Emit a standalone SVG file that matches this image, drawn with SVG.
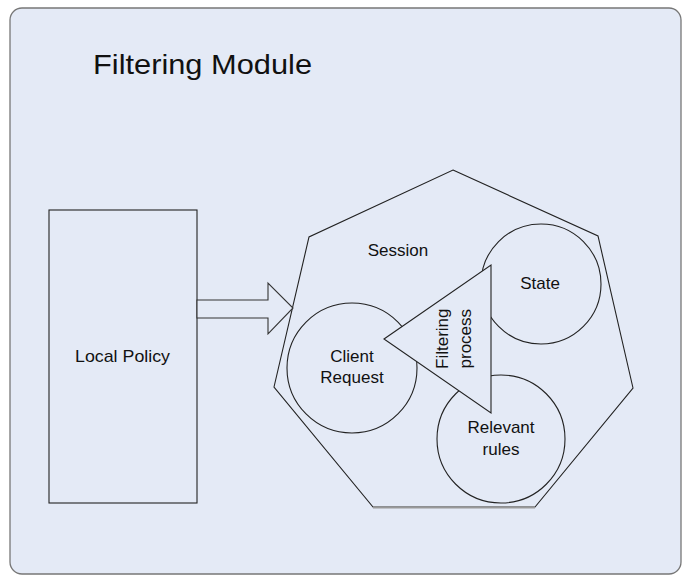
<svg xmlns="http://www.w3.org/2000/svg" width="683" height="576" viewBox="0 0 683 576">
<style>
text{font-family:"Liberation Sans",Arial,sans-serif;fill:#111;}
.shape{fill:#E4EAF6;stroke:#222;stroke-width:1.1;}
.lbl{font-size:17px;text-anchor:middle;}
</style>
<rect x="0" y="0" width="683" height="576" fill="#fff"/>
<g id="module">
<rect x="10" y="8" width="671" height="566" rx="12" fill="#E4EAF6" stroke="#777" stroke-width="1.3"/>
<text x="93" y="74" font-size="28" textLength="219" lengthAdjust="spacingAndGlyphs">Filtering Module</text>
</g>
<g id="local-policy">
<rect class="shape" x="49" y="210" width="148" height="293" stroke-width="1.6"/>
<text class="lbl" x="122.5" y="362" font-size="16" textLength="95" lengthAdjust="spacingAndGlyphs">Local Policy</text>
</g>
<g id="session">
<polygon class="shape" points="453,170 598,236 633,388 535,507 373,507 274,387 309,237"/>
<line x1="373" y1="507.5" x2="535" y2="507.5" stroke="#999" stroke-width="2"/>
<text class="lbl" x="398" y="256">Session</text>
</g>
<g id="state">
<circle class="shape" cx="541" cy="284" r="60"/>
<text class="lbl" x="540" y="289">State</text>
</g>
<g id="client-request">
<circle class="shape" cx="352" cy="368" r="65"/>
<text class="lbl" x="352" y="362">Client</text>
<text class="lbl" x="352" y="383">Request</text>
</g>
<g id="relevant-rules">
<circle class="shape" cx="501" cy="439" r="64"/>
<text class="lbl" x="501" y="433">Relevant</text>
<text class="lbl" x="501" y="455">rules</text>
</g>
<g id="filtering-process">
<polygon class="shape" points="384,339 491,265 491,413"/>
<text class="lbl" transform="translate(448,338.7) rotate(-90)">Filtering</text>
<text class="lbl" transform="translate(470.5,338.7) rotate(-90)">process</text>
</g>
<g id="connectors">
<polygon points="197,300 268,300 268,283 293,308 268,334 268,318 197,318" fill="#E4EAF6" stroke="#333" stroke-width="1.1"/>
</g>
</svg>
